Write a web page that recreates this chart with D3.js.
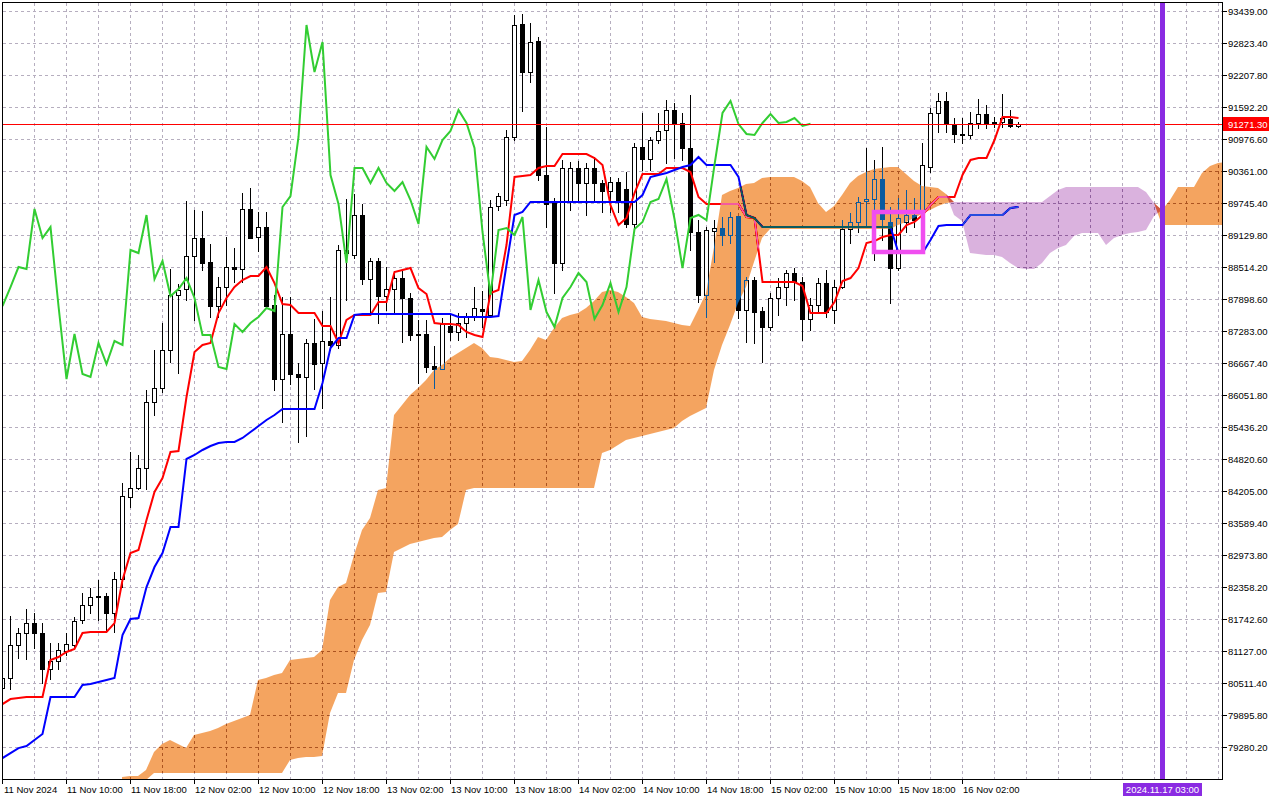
<!DOCTYPE html>
<html>
<head>
<meta charset="utf-8">
<script src="https://cdn.jsdelivr.net/npm/d3@7"></script>
<style>
  body { margin: 0; background: #fff; }
  svg text { font-family: "Liberation Sans", Arial, sans-serif; font-size: 9.5px; }
</style>
</head>
<body>
<div id="chart"></div>
<script>
(function () {
  'use strict';

  // ---- BTCUSD H1, bar 0 = 11 Nov 2024 02:00
  var opens = [
    80415, 80607, 81242, 81473, 81665, 81473, 80780, 80935, 81127, 81242,
    81723, 82012, 82185, 82185, 81858, 82512, 84089, 84263, 84647, 85918,
    86186, 86917, 87976, 88091, 88726, 89072, 88611, 87764, 88129, 88514,
    88475, 89630, 89091, 89283, 87783, 86359, 87225, 86456, 86398, 87052,
    86667, 87091, 87014, 88841, 88745, 89514, 88283, 88630, 87956, 88091,
    88302, 87918, 87225, 87225, 86610, 86552, 87379, 87264, 87437, 87572,
    87706, 87591, 89688, 89803, 91015, 93189, 92266, 92862, 90284, 89746,
    88591, 89765, 90419, 90130, 90419, 90130, 89976, 90149, 90015, 89341,
    90823, 90592, 90957, 91150, 91534, 91285, 90803, 89188, 87976, 89207,
    89264, 89130, 89496, 87687, 88264, 87668, 87360, 87918, 88129, 88399,
    88226, 87514, 87783, 88206, 87687, 88129, 89245, 89380, 89784, 89822,
    90207, 89380, 88495, 89380, 89515, 89553, 90438, 91477, 91708, 91265,
    91073, 91054, 91285, 91458, 91285, 91304, 91361, 91227
  ];
  var highs = [
    80646, 81800, 81569, 81935, 81858, 81665, 81280, 81280, 81473, 81781,
    82242, 82339, 82493, 82242, 82647, 84359, 84956, 84898, 86148, 86917,
    87437, 88475, 88187, 89784, 89611, 89592, 88957, 88321, 89091, 88879,
    89937, 90034, 89573, 89573, 87976, 87937, 87937, 86667, 87129, 87514,
    87668, 87937, 88937, 89822, 89918, 89726, 88687, 88687, 88514, 88437,
    88437, 88014, 87495, 87495, 86994, 87533, 87591, 87629, 87629, 88130,
    88053, 89803, 89937, 91150, 93362, 93381, 93208, 92939, 91207, 89842,
    90573, 90534, 90554, 90515, 90631, 90188, 90246, 90227, 90342, 90900,
    91477, 91015, 91477, 91727, 91669, 91477, 91823, 89418, 89284, 89418,
    89476, 89573, 89496, 88322, 88322, 87745, 88014, 88302, 88456, 88495,
    88322, 87918, 88302, 88456, 88264, 89418, 89553, 89861, 90803, 90573,
    90823, 89669, 89842, 89995, 89842, 90900, 91573, 91862, 91881, 91380,
    91380, 91496, 91746, 91631, 91400, 91842, 91534, 91304
  ];
  var lows = [
    80338, 80395, 80992, 80973, 81184, 80511, 80588, 80780, 81050, 81184,
    81665, 81858, 81723, 81493, 81493, 82358, 83897, 84243, 84243, 85667,
    86110, 86687, 86475, 87879, 87495, 88456, 87552, 87552, 87783, 88226,
    88226, 89072, 88822, 87744, 86148, 85533, 86263, 85148, 85263, 86167,
    85801, 86917, 86956, 87879, 88687, 88187, 87629, 87437, 87687, 87629,
    87071, 87110, 86282, 86494, 86186, 86552, 87110, 87110, 87168, 87495,
    87360, 87572, 89611, 89707, 90957, 91515, 92073, 90188, 89284, 88014,
    88456, 89611, 89765, 89515, 89765, 89573, 89573, 89573, 89284, 89245,
    90380, 90380, 90900, 90515, 90611, 90573, 88841, 87841, 87552, 88610,
    88937, 88976, 87533, 87071, 87052, 86687, 87302, 87591, 87783, 87879,
    87110, 87302, 87648, 87552, 87437, 88110, 88976, 89188, 89284, 88649,
    89034, 87822, 88456, 89188, 89284, 89515, 90342, 91111, 91111, 90919,
    90900, 91000, 91188, 91188, 91207, 91207, 91207, 91207
  ];
  var closes = [
    80607, 81242, 81473, 81665, 81473, 80780, 80935, 81146, 81261, 81704,
    82012, 82165, 82165, 81858, 82512, 84109, 84263, 84647, 85918, 86186,
    86917, 87976, 88072, 88726, 89072, 88591, 87764, 88129, 88514, 88475,
    89630, 89072, 89283, 87764, 86359, 87225, 86456, 86398, 87052, 86648,
    87091, 87014, 88841, 88783, 89514, 88283, 88630, 87956, 88091, 88302,
    87918, 87206, 87206, 86591, 86552, 87418, 87264, 87437, 87553, 87725,
    87668, 89668, 89880, 91015, 93170, 92266, 92842, 90284, 89726, 88591,
    90419, 90419, 90130, 90419, 90130, 89976, 90149, 89803, 89341, 90823,
    90592, 90957, 91131, 91534, 91285, 90803, 89188, 87976, 89226, 89264,
    89130, 89476, 87687, 88264, 87648, 87360, 87918, 88129, 88399, 88226,
    87514, 87783, 88206, 87648, 88129, 89245, 89380, 89765, 89822, 90207,
    89437, 88495, 89457, 89515, 89418, 90477, 91477, 91708, 91265, 91073,
    91054, 91285, 91458, 91285, 91304, 91380, 91227, 91271.3
  ];

  // ---- Ichimoku lines
  var tenkan = [
    80107, 80203, 80222, 80242, 80242, 80242, 80954, 81012, 81108, 81165,
    81473, 81493, 81493, 81493, 81665, 82493, 83012, 83070, 83647, 84186,
    84455, 84955, 84975, 86013, 86879, 87014, 87052, 87629, 87918, 88130,
    88264, 88341, 88341, 88514, 88206, 87802, 87783, 87629, 87629, 87629,
    87379, 87379, 87052, 87495, 87591, 87591, 87591, 87841, 87841, 88418,
    88456, 88495, 88110, 87995, 87437, 87418, 87418, 87399, 87264, 87206,
    87168, 88014, 88072, 88937, 90246, 90265, 90284, 90419, 90457, 90457,
    90688, 90688, 90688, 90688, 90611, 90477, 89707, 89322, 89457, 89937,
    90303, 90303, 90303, 90419, 90419, 90419, 90342, 89861, 89726, 89726,
    89726, 89726, 89726, 89476, 89457, 88226, 88226, 88226, 88226, 88226,
    88149, 87629, 87629, 87629, 87841, 88245, 88302, 88495, 88976, 89014,
    89091, 89130, 89130, 89322, 89380, 89515, 89707, 89861, 89861, 89861,
    90284, 90573, 90611, 90611, 90957, 91400, 91400, 91380
  ];
  var kijun = [
    79068, 79164, 79260, 79299, 79415, 79530, 80242, 80242, 80242, 80242,
    80473, 80492, 80530, 80569, 80607, 81434, 81742, 81762, 82358, 82743,
    83012, 83512, 83512, 84821, 84898, 84994, 85071, 85128, 85148, 85148,
    85225, 85340, 85455, 85571, 85667, 85782, 85782, 85782, 85782, 85782,
    86282, 86956, 87148, 87148, 87591, 87610, 87610, 87610, 87610, 87610,
    87610, 87610, 87610, 87610, 87610, 87610, 87610, 87552, 87552, 87552,
    87552, 87552, 87572, 88553, 89515, 89573, 89765, 89765, 89765, 89765,
    89765, 89765, 89765, 89765, 89765, 89765, 89765, 89765, 89765, 89765,
    89899, 90246, 90284, 90323, 90380, 90438, 90476, 90631, 90476, 90476,
    90476, 90476, 90246, 89515, 89457, 89284, 89284, 89284, 89284, 89284,
    89284, 89284, 89284, 89284, 89284, 89284, 89284, 89284, 89284, 89284,
    89284, 89284, 88784, 88784, 88784, 88784, 89034, 89303, 89322, 89322,
    89322, 89515, 89515, 89515, 89515, 89515, 89649, 89669
  ];
  // chikou span, plotted from bar 0
  var chikou = [
    87764, 88129, 88514, 88475, 89630, 89072, 89283, 87764, 86359, 87225,
    86456, 86398, 87052, 86648, 87091, 87014, 88841, 88783, 89514, 88283,
    88630, 87956, 88091, 88302, 87918, 87206, 87206, 86591, 86552, 87418,
    87264, 87437, 87553, 87725, 87668, 89668, 89880, 91015, 93170, 92266,
    92842, 90284, 89726, 88591, 90419, 90419, 90130, 90419, 90130, 89976,
    90149, 89803, 89341, 90823, 90592, 90957, 91131, 91534, 91285, 90803,
    89188, 87976, 89226, 89264, 89130, 89476, 87687, 88264, 87648, 87360,
    87918, 88129, 88399, 88226, 87514, 87783, 88206, 87648, 88129, 89245,
    89380, 89765, 89822, 90207, 89437, 88495, 89457, 89515, 89418, 90477,
    91477, 91708, 91265, 91073, 91054, 91285, 91458, 91285, 91304, 91380,
    91227, 91271
  ];
  // senkou spans, first value at bar 15
  var cloudStart = 15;
  var spanA = [
    78703, 78722, 78722, 78837, 79184, 79338, 79415, 79338, 79260, 79511,
    79549, 79588, 79646, 79722, 79780, 79838, 79895, 80569, 80607, 80665,
    80703, 80954, 80973, 80992, 81012, 81146, 82108, 82358, 82435, 82974,
    83455, 83686, 84224, 84263, 85667, 85859, 86052, 86186, 86340, 86533,
    86629, 86764, 86860, 86956, 87052, 86956, 86783, 86764, 86725, 86687,
    86706, 86917, 87168, 87110, 87341, 87533, 87591, 87629, 87725, 87860,
    88033, 88072, 88033, 87937, 87822, 87552, 87514, 87495, 87475, 87437,
    87399, 87379, 87687, 88014, 88900, 89899, 89976, 90034, 90111, 90130,
    90226, 90246, 90246, 90246, 90246, 90168, 90053, 89745, 89573, 89688,
    89899, 90130, 90265, 90342, 90400, 90419, 90438, 90438, 90303, 90168,
    90072, 90053, 90034, 89918, 89515, 89399, 88784, 88764, 88745, 88745,
    88707, 88591, 88495, 88476, 88476, 88591, 88784, 88880, 88937, 89111,
    89168, 89168, 89168, 88937, 89072, 89130, 89168, 89188, 89226, 89495,
    89611, 89803, 90053, 90053, 90053, 90323, 90457, 90515, 90534
  ];
  var spanB = [
    78453, 78453, 78453, 78645, 78780, 78780, 78780, 78780, 78780, 78780,
    78780, 78780, 78780, 78780, 78780, 78780, 78780, 78780, 78780, 78780,
    78780, 79030, 79068, 79087, 79087, 79107, 79934, 80319, 80319, 80954,
    81338, 81627, 82242, 82262, 83031, 83108, 83185, 83224, 83262, 83301,
    83320, 83455, 83570, 84224, 84263, 84263, 84263, 84263, 84263, 84263,
    84263, 84263, 84263, 84263, 84263, 84263, 84263, 84263, 84263, 84263,
    84936, 84994, 85090, 85186, 85225, 85263, 85302, 85340, 85378, 85417,
    85552, 85648, 85725, 85801, 86533, 87014, 87399, 87822, 88130, 88610,
    89072, 89245, 89245, 89245, 89245, 89245, 89245, 89245, 89245, 89245,
    89245, 89245, 89245, 89245, 89245, 89245, 89245, 89322, 89380, 89457,
    89534, 89611, 89688, 89745, 89765, 89765, 89765, 89765, 89765, 89765,
    89765, 89765, 89765, 89765, 89765, 89765, 89880, 89995, 90053, 90053,
    90053, 90053, 90053, 90053, 90053, 90053, 90053, 90053, 89957, 89745,
    89322, 89322, 89322, 89322, 89322, 89322, 89322, 89322, 89322
  ];

  // ---- axes
  var priceTicks = [
    93439.00, 92823.40, 92207.80, 91592.20, 90976.60, 90361.00, 89745.40, 89129.80,
    88514.20, 87898.60, 87283.00, 86667.40, 86051.80, 85436.20, 84820.60, 84205.00,
    83589.40, 82973.80, 82358.20, 81742.60, 81127.00, 80511.40, 79895.80, 79280.20
  ];
  var labelBars = [0, 8, 16, 24, 32, 40, 48, 56, 64, 72, 80, 88, 96, 104, 112, 120];
  var timeLabels = [
    '11 Nov 2024', '11 Nov 10:00', '11 Nov 18:00', '12 Nov 02:00', '12 Nov 10:00',
    '12 Nov 18:00', '13 Nov 02:00', '13 Nov 10:00', '13 Nov 18:00', '14 Nov 02:00',
    '14 Nov 10:00', '14 Nov 18:00', '15 Nov 02:00', '15 Nov 10:00', '15 Nov 18:00',
    '16 Nov 02:00'
  ];
  var lastPrice = 91271.30;
  var markerBar = 145, markerLabel = '2024.11.17 03:00';
  // rectangle object: bars / prices
  var boxBars = [109.0, 115.125], boxPrices = [89572, 88803];

  var W = 1280, H = 800, plotR = 1222, plotB = 779;

  var x = d3.scaleLinear().domain([0, 152]).range([2, 1218]);
  var y = d3.scaleLinear().domain([78665, 93650.6]).range([plotB, 0]);
  function py(p) { return Math.round(y(p)); }

  var svg = d3.select('#chart').append('svg')
    .attr('width', W).attr('height', H);

  svg.append('rect').attr('width', W).attr('height', H).attr('fill', '#fff');

  svg.append('defs').append('clipPath').attr('id', 'plotClip')
    .append('rect').attr('x', 3).attr('y', 3).attr('width', plotR - 3).attr('height', plotB - 3);

  var plot = svg.append('g').attr('clip-path', 'url(#plotClip)');

  // white backdrop inside the group, the cloud blends against it
  plot.append('rect').attr('x', 0).attr('y', 0).attr('width', plotR).attr('height', plotB)
    .attr('fill', '#fff');

  //----- grid
  plot.selectAll('line.hgrid').data(priceTicks).enter()
    .append('line')
    .attr('x1', 3).attr('x2', plotR)
    .attr('y1', function (d) { return py(d) + 0.5; })
    .attr('y2', function (d) { return py(d) + 0.5; })
    .attr('stroke', '#b6aebf').attr('stroke-dasharray', '3,3')
    .attr('shape-rendering', 'crispEdges');

  plot.selectAll('line.vgrid').data(d3.range(4, 153, 4)).enter()
    .append('line')
    .attr('x1', function (d) { return x(d) + 0.5; })
    .attr('x2', function (d) { return x(d) + 0.5; })
    .attr('y1', 3).attr('y2', plotB)
    .attr('stroke', '#b6aebf').attr('stroke-dasharray', '3,3')
    .attr('shape-rendering', 'crispEdges');

  //----- candles
  var bars = d3.range(opens.length);
  var candles = plot.append('g').attr('shape-rendering', 'crispEdges');

  candles.selectAll('line.wick').data(bars).enter()
    .append('line')
    .attr('x1', function (i) { return x(i) + 0.5; })
    .attr('x2', function (i) { return x(i) + 0.5; })
    .attr('y1', function (i) { return py(highs[i]); })
    .attr('y2', function (i) { return py(lows[i]) + 1; })
    .attr('stroke', '#000');

  candles.selectAll('rect.body').data(bars).enter()
    .append('rect')
    .attr('x', function (i) { return x(i) - 1.5; })
    .attr('y', function (i) { return Math.min(py(opens[i]), py(closes[i])) + 0.5; })
    .attr('width', 4)
    .attr('height', function (i) { return Math.max(Math.abs(py(opens[i]) - py(closes[i])), 1); })
    .attr('fill', function (i) { return closes[i] >= opens[i] ? '#fff' : '#000'; })
    .attr('stroke', '#000');

  //----- tenkan / kijun
  var line = d3.line()
    .x(function (d, i) { return x(i) + 0.5; })
    .y(function (d) { return y(d); });

  plot.append('path').attr('d', line(tenkan))
    .attr('fill', 'none').attr('stroke', '#ff0000').attr('stroke-width', 2);
  plot.append('path').attr('d', line(kijun))
    .attr('fill', 'none').attr('stroke', '#0000ff').attr('stroke-width', 2);

  //----- kumo (drawn like MT XOR fill)
  var kumo = spanA.map(function (a, k) {
    return { i: k + cloudStart, a: a, b: spanB[k] };
  });

  var bullArea = d3.area()
    .x(function (d) { return x(d.i); })
    .y0(function (d) { return y(d.b); })
    .y1(function (d) { return y(Math.max(d.a, d.b)); });
  var bearArea = d3.area()
    .x(function (d) { return x(d.i); })
    .y0(function (d) { return y(d.a); })
    .y1(function (d) { return y(Math.max(d.a, d.b)); });

  plot.append('path').attr('d', bullArea(kumo))
    .attr('fill', '#0b5b9f').style('mix-blend-mode', 'difference');
  plot.append('path').attr('d', bearArea(kumo))
    .attr('fill', '#254d21').style('mix-blend-mode', 'difference');

  //----- chikou
  plot.append('path').attr('d', line(chikou))
    .attr('fill', 'none').attr('stroke', '#32cd32').attr('stroke-width', 2);

  //----- bid line
  plot.append('line')
    .attr('x1', 3).attr('x2', plotR)
    .attr('y1', py(lastPrice) + 0.5).attr('y2', py(lastPrice) + 0.5)
    .attr('stroke', '#ff0000').attr('shape-rendering', 'crispEdges');

  //----- rectangle object
  plot.append('rect')
    .attr('x', x(boxBars[0])).attr('y', y(boxPrices[0]))
    .attr('width', x(boxBars[1]) - x(boxBars[0]))
    .attr('height', y(boxPrices[1]) - y(boxPrices[0]))
    .attr('fill', 'none').attr('stroke', '#f04ef0').attr('stroke-width', 4.5);

  //----- vertical line object
  plot.append('line')
    .attr('x1', x(markerBar) + 0.5).attr('x2', x(markerBar) + 0.5)
    .attr('y1', 0).attr('y2', plotB)
    .attr('stroke', '#8a2be2').attr('stroke-width', 5);

  //----- frame
  var frame = svg.append('g').attr('stroke', '#000').attr('shape-rendering', 'crispEdges');
  frame.append('line').attr('x1', 2).attr('x2', plotR + 1).attr('y1', 2.5).attr('y2', 2.5);
  frame.append('line').attr('x1', 2.5).attr('x2', 2.5).attr('y1', 2).attr('y2', plotB + 1);
  frame.append('line').attr('x1', plotR + 0.5).attr('x2', plotR + 0.5).attr('y1', 2).attr('y2', plotB + 1);
  frame.append('line').attr('x1', 2).attr('x2', plotR + 1).attr('y1', plotB + 0.5).attr('y2', plotB + 0.5);

  //----- price axis
  frame.selectAll('line.ptick').data(priceTicks).enter()
    .append('line')
    .attr('x1', plotR).attr('x2', plotR + 5)
    .attr('y1', function (d) { return py(d) + 0.5; })
    .attr('y2', function (d) { return py(d) + 0.5; });

  svg.selectAll('text.price').data(priceTicks).enter()
    .append('text')
    .attr('x', 1228)
    .attr('y', function (d) { return py(d) + 4; })
    .attr('fill', '#000')
    .text(function (d) { return d.toFixed(2); });

  svg.append('rect')
    .attr('x', 1223).attr('y', py(lastPrice) - 7)
    .attr('width', 46).attr('height', 14)
    .attr('fill', '#ff0000');
  svg.append('text')
    .attr('x', 1228).attr('y', py(lastPrice) + 4)
    .attr('fill', '#fff')
    .text(lastPrice.toFixed(2));

  //----- time axis
  frame.selectAll('line.ttick').data(labelBars).enter()
    .append('line')
    .attr('x1', function (d) { return x(d) + 0.5; })
    .attr('x2', function (d) { return x(d) + 0.5; })
    .attr('y1', plotB).attr('y2', plotB + 5);

  svg.selectAll('text.time').data(labelBars).enter()
    .append('text')
    .attr('x', function (d) { return Math.max(x(d) + 1, 4); })
    .attr('y', 793)
    .attr('fill', '#000')
    .text(function (d, i) { return timeLabels[i]; });

  svg.append('rect')
    .attr('x', x(markerBar) - 39).attr('y', 783)
    .attr('width', 79).attr('height', 13)
    .attr('fill', '#8a2be2');
  svg.append('text')
    .attr('x', x(markerBar) + 0.5).attr('y', 793)
    .attr('text-anchor', 'middle')
    .attr('fill', '#fff')
    .text(markerLabel);
})();
</script>
</body>
</html>
